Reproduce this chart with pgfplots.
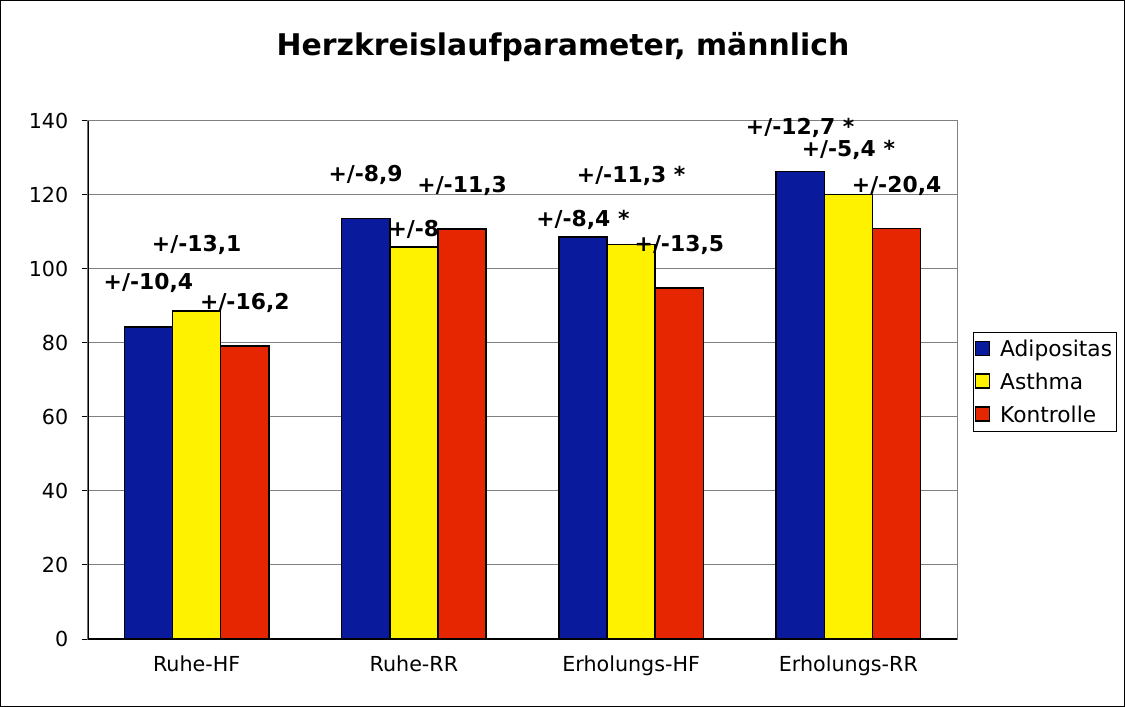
\documentclass[border=0pt]{standalone}
\usepackage{pgfplots}
\pgfplotsset{compat=1.18}
\usepackage{pgfplotstable}
\usepackage{fontspec}
\setmainfont{DejaVu Sans}
\definecolor{cAdi}{HTML}{0A1A9C}
\definecolor{cAst}{HTML}{FFF200}
\definecolor{cKon}{HTML}{E62600}
\definecolor{cGrid}{HTML}{808080}
\def\px{0.75pt}
\pgfplotstableread{
x adi asth kont
0 84.3 88.6 79.2
1 113.7 105.9 110.8
2 108.6 106.6 94.9
3 126.3 120.2 110.9
}\data
\begin{document}
\begin{tikzpicture}
\fill[white] (0,0) rectangle (1125*\px,707*\px);
\draw[black, line width=1.2*\px] (0.6*\px,0.6*\px) rectangle (1124.4*\px,706.4*\px);
\node[font=\fontsize{22.4}{26}\selectfont\bfseries] at (563*\px,660*\px) {Herzkreislaufparameter, männlich};
\begin{axis}[
  at={(88*\px,68*\px)}, anchor=south west,
  width=869*\px, height=518*\px, scale only axis,
  xmin=-0.5, xmax=3.5, ymin=0, ymax=140,
  ytick distance=20,
  xtick pos=bottom, ytick pos=left,
  ymajorgrids, major grid style={cGrid, line width=1*\px},
  axis line style={cGrid, line width=1*\px},
  tick style={black, line width=1*\px},
  tick align=outside, major tick length=6*\px,
  xtick={0,1,2,3},
  xticklabels={Ruhe-HF,Ruhe-RR,Erholungs-HF,Erholungs-RR},
  x tick style={draw=none},
  extra x ticks={-0.5,0.5,1.5,2.5,3.5},
  extra x tick labels={},
  extra x tick style={major tick length=6*\px, tick style={draw=black}, grid=none},
  ticklabel style={font=\fontsize{15.5}{18}\selectfont},
  /pgf/number format/assume math mode=true,
  xticklabel style={yshift=-6*\px},
  yticklabel style={xshift=-9*\px},
  legend style={at={(1.018,0.593)}, anchor=north west, draw=black, line width=1*\px,
    font=\fontsize{16.3}{19}\selectfont, row sep=9*\px, inner xsep=2*\px, inner ysep=5*\px,
    cells={anchor=west}},
  legend image code/.code={\draw[#1, line width=1.2*\px] (0,-6*\px) rectangle (14*\px,8*\px);
    \path (21*\px,0);},
]
\addplot[ybar, bar width=0.222, bar shift=-0.222, fill=cAdi, draw=black, line width=1.5*\px] table[x=x, y=adi] {\data};
\addlegendentry{Adipositas}
\addplot[ybar, bar width=0.222, bar shift=0, fill=cAst, draw=black, line width=1.5*\px] table[x=x, y=asth] {\data};
\addlegendentry{Asthma}
\addplot[ybar, bar width=0.222, bar shift=0.222, fill=cKon, draw=black, line width=1.5*\px] table[x=x, y=kont] {\data};
\addlegendentry{Kontrolle}
\addplot[draw=none, mark=none, forget plot, nodes near coords, point meta=explicit symbolic,
  nodes near coords style={anchor=center, text=black, font=\fontsize{16.4}{19}\selectfont\bfseries}]
  table[col sep=semicolon, x=x, y=y, meta=lab] {
x;y;lab
-0.222;96.2;+/-10,4
0;106.5;+/-13,1
0.222;90.8;+/-16,2
0.778;125.4;+/-8,9
1;110.8;+/-8
1.222;122.5;+/-11,3
1.778;113.3;+/-8,4 *
2;125.1;+/-11,3 *
2.222;106.6;+/-13,5
2.778;138.1;+/-12,7 *
3;132.2;+/-5,4 *
3.222;122.5;+/-20,4
};
\draw[black, line width=1.2*\px] (rel axis cs:0,1) -- (rel axis cs:0,0) -- (rel axis cs:1,0);
\end{axis}
\end{tikzpicture}
\end{document}
